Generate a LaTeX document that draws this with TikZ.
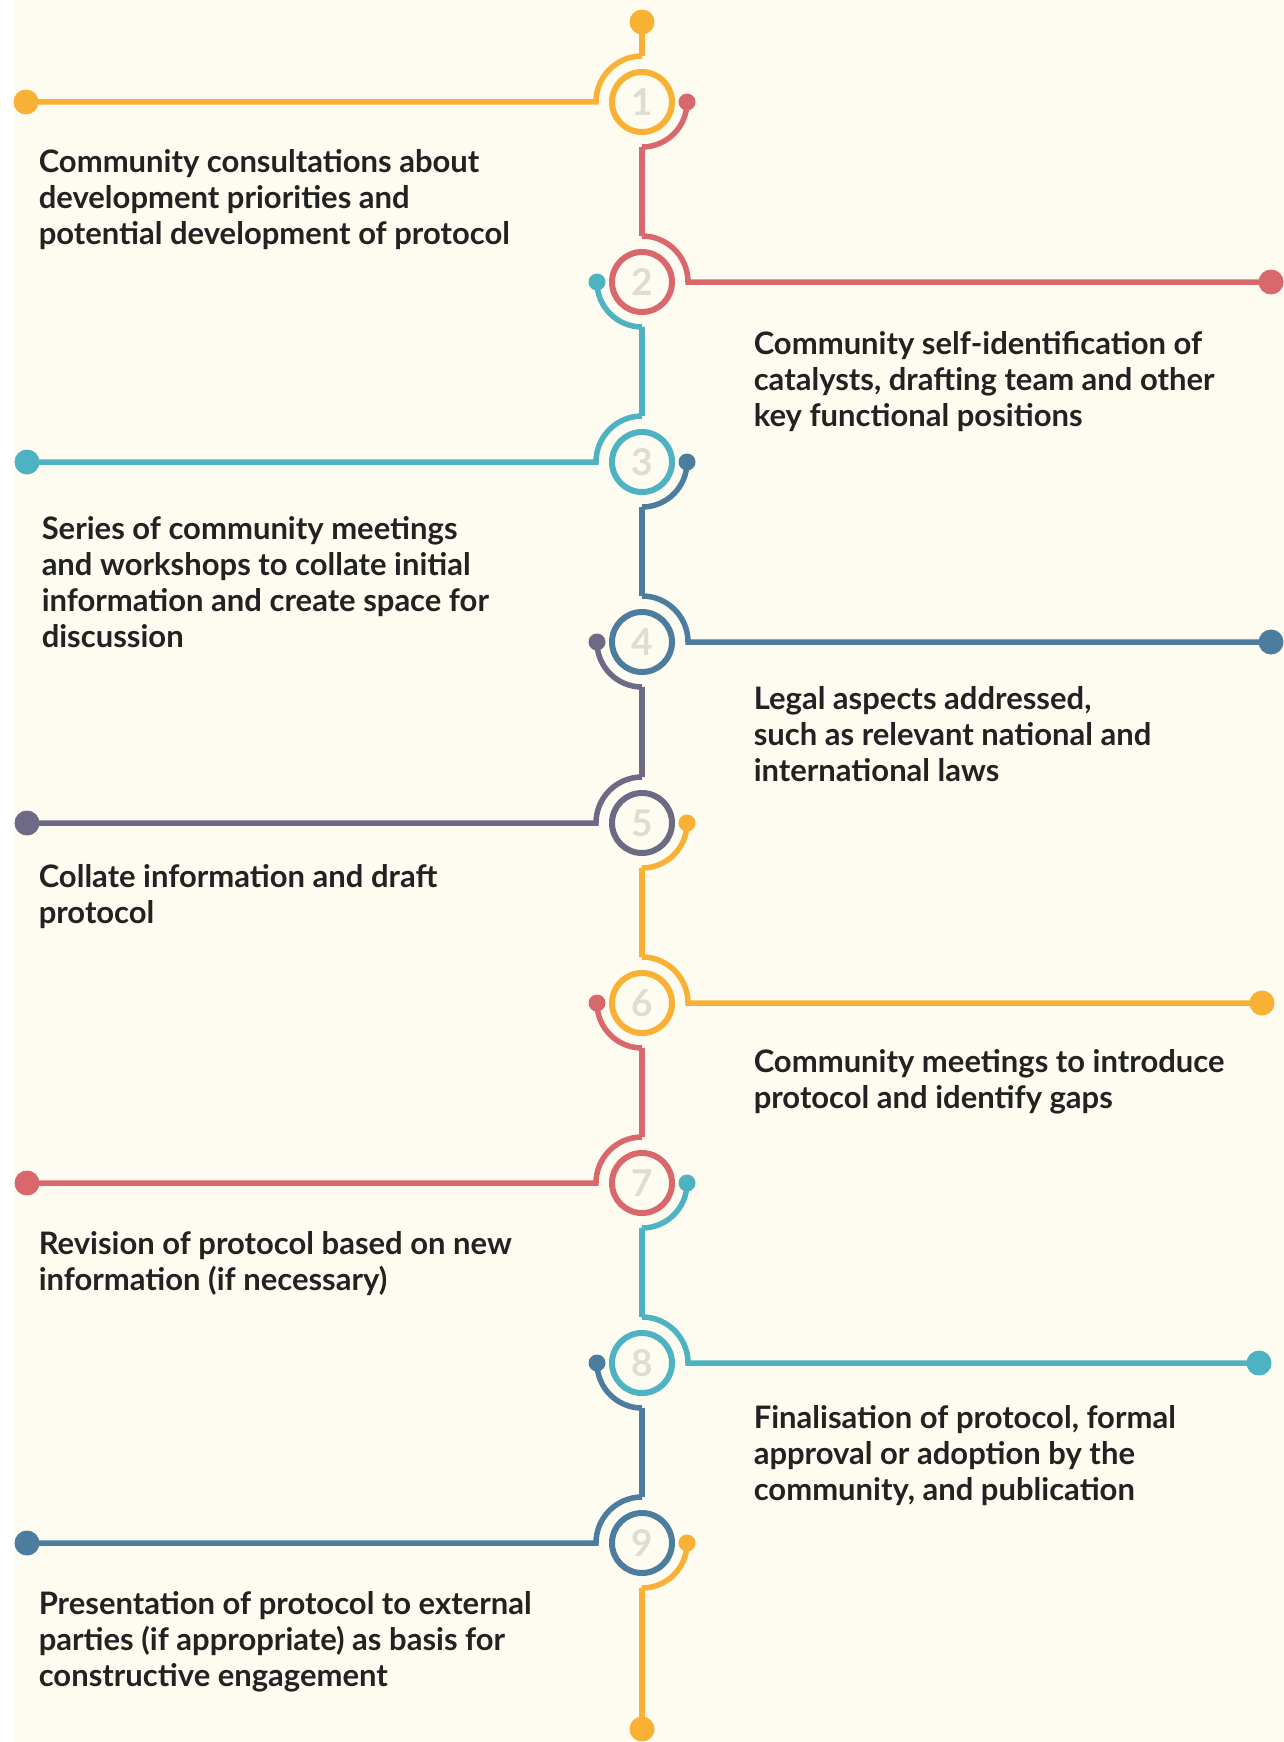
\documentclass[tikz,border=0pt]{standalone}
\usepackage{fontspec}
\setmainfont{Lato}
\definecolor{bg}{HTML}{FEFBF0}
\definecolor{cY}{HTML}{F8B134}
\definecolor{cR}{HTML}{D8686B}
\definecolor{cT}{HTML}{4DB2C2}
\definecolor{cB}{HTML}{4C7C9E}
\definecolor{cP}{HTML}{6D6A86}
\definecolor{numgrey}{HTML}{DEDCD3}
\definecolor{txt}{HTML}{222222}
\begin{document}
\begin{tikzpicture}[x=1pt,y=1pt,line width=5.5pt,
  num/.style={circle,draw,line width=6pt,minimum size=60pt,inner sep=0pt,
    font=\fontsize{37}{37}\selectfont\bfseries,text=numgrey},
  lbl/.style={anchor=base west,align=left,inner sep=0pt,
    font=\fontsize{31}{36}\selectfont\bfseries,text=txt},
  bigdot/.style={circle,inner sep=0pt,minimum size=25pt},
  smalldot/.style={circle,inner sep=0pt,minimum size=17pt}]
\useasboundingbox (0,0) rectangle (1284,-1742);
\fill[white] (0,0) rectangle (1284,-1742);
\fill[bg] (14,0) rectangle (1284,-1742);
% odd steps: line to the left, small arc on the right
\foreach \i/\y/\c/\n/\dx in {1/102/cY/cR/26,3/462/cT/cB/27,5/823/cP/cY/27,7/1183/cR/cT/27,9/1543/cB/cY/27}{
  \coordinate (top\i) at (642,{-\y+46});
  \node[bigdot,fill=\c] (L\i) at (\dx,-\y) {};
  \draw[\c] (top\i) arc[start angle=90,end angle=180,radius=46] -- (L\i.center);
  \node[smalldot,fill=\n] (s\i) at (687,-\y) {};
  \draw[\n] (s\i.center) arc[start angle=0,end angle=-90,radius=45] coordinate (b\i);
  \node[num,draw=\c] (n\i) at (642,-\y) {\i};
}
% even steps: line to the right, small arc on the left
\foreach \i/\y/\c/\n/\dx in {2/282/cR/cT/1271,4/642/cB/cP/1271,6/1003/cY/cR/1262,8/1363/cT/cB/1259}{
  \coordinate (top\i) at (642,{-\y+46});
  \node[bigdot,fill=\c] (R\i) at (\dx,-\y) {};
  \draw[\c] (top\i) arc[start angle=90,end angle=0,radius=46] -- (R\i.center);
  \node[smalldot,fill=\n] (s\i) at (597,-\y) {};
  \draw[\n] (s\i.center) arc[start angle=180,end angle=270,radius=45] coordinate (b\i);
  \node[num,draw=\c] (n\i) at (642,-\y) {\i};
}
\foreach \i/\j/\c in {1/2/cR,2/3/cT,3/4/cB,4/5/cP,5/6/cY,6/7/cR,7/8/cT,8/9/cB}{
  \draw[\c] (b\i) -- (top\j);
}
\node[bigdot,fill=cY] (T) at (642,-22) {};
\draw[cY] (T.center) -- (top1);
\node[bigdot,fill=cY] (B) at (642,-1729) {};
\draw[cY] (b9) -- (B.center);
% texts (anchor = baseline of the last line)
\node[lbl] (t1) at (36,-244) {Community consultations about\\development priorities and\\potential development of protocol};
\node[lbl] (t2) at (751,-426) {Community self-identification of\\catalysts, drafting team and other\\key functional positions};
\node[lbl] (t3) at (39,-647) {Series of community meetings\\and workshops to collate initial\\information and create space for\\discussion};
\node[lbl] (t4) at (751,-781) {Legal aspects addressed,\\such as relevant national and\\international laws};
\node[lbl] (t5) at (36,-923) {Collate information and draft\\protocol};
\node[lbl] (t6) at (751,-1108) {Community meetings to introduce\\protocol and identify gaps};
\node[lbl] (t7) at (36,-1290) {Revision of protocol based on new\\information (if necessary)};
\node[lbl] (t8) at (751,-1500) {Finalisation of protocol, formal\\approval or adoption by the\\community, and publication};
\node[lbl] (t9) at (36,-1686) {Presentation of protocol to external\\parties (if appropriate) as basis for\\constructive engagement};
\end{tikzpicture}
\end{document}
